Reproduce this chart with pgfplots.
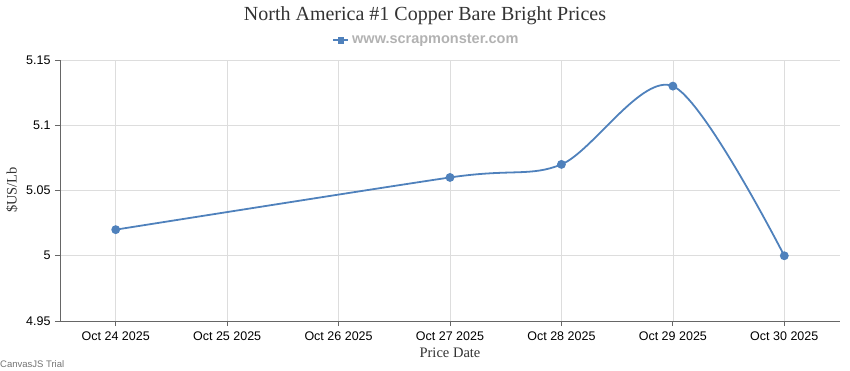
\documentclass[border=0pt]{standalone}
\usepackage{pgfplots}
\pgfplotsset{compat=1.18}
\usepackage{fontspec}
\setmainfont{Liberation Serif}
\setsansfont{Liberation Sans}
\definecolor{series}{HTML}{4F81BC}
\definecolor{gridc}{HTML}{DDDDDD}
\definecolor{axc}{HTML}{666666}
\begin{document}
\begin{tikzpicture}[x=1bp,y=1bp]
\useasboundingbox (-60,-49) rectangle (790,321);
\begin{axis}[
  at={(0,0)}, anchor=south west,
  scale only axis, width=780bp, height=261bp,
  xmin=-0.5, xmax=6.5, ymin=4.95, ymax=5.15,
  xtick={0,1,2,3,4,5,6},
  xticklabels={Oct 24 2025,Oct 25 2025,Oct 26 2025,Oct 27 2025,Oct 28 2025,Oct 29 2025,Oct 30 2025},
  ytick={4.95,5,5.05,5.1,5.15},
  yticklabels={4.95,5,5.05,5.1,5.15},
  axis x line*=bottom, axis y line*=left,
  axis line style={axc, line width=0.8pt, -},
  grid=major, major grid style={gridc, line width=0.6pt},
  tick style={axc, line width=0.8pt},
  major tick length=5bp,
  tick align=outside,
  xtick pos=bottom, ytick pos=left,
  ticklabel style={font=\sffamily\fontsize{12.5bp}{14bp}\selectfont, text=black},
  xticklabel style={yshift=-2bp},
  yticklabel style={xshift=-1bp},
  clip=false,
]
\addplot[series, line width=1.8pt, smooth, tension=0.5, mark=*, mark size=3.5pt, mark options={fill=series, draw=series}]
  coordinates {(0,5.02) (3,5.06) (4,5.07) (5,5.13) (6,5.00)};
\end{axis}
\node[font=\fontsize{20bp}{22bp}\selectfont, text=black!80] at (365,305) {North America \#1 Copper Bare Bright Prices};
\draw[series, line width=2.5pt] (273,281) -- (288,281);
\fill[series] (277.5,277.5) rectangle (283.5,284.5);
\node[anchor=west, inner sep=0pt, font=\sffamily\bfseries\fontsize{14.5bp}{16bp}\selectfont, text=black!30] at (292,281) {www.scrapmonster.com};
\node[rotate=90, font=\fontsize{14.5bp}{16bp}\selectfont, text=black!80] at (-48,131) {\$US/Lb};
\node[font=\fontsize{14.5bp}{16bp}\selectfont, text=black!80] at (390,-32) {Price Date};
\node[anchor=south west, inner sep=0pt, font=\sffamily\fontsize{9.5bp}{11bp}\selectfont, text=black!55] at (-60,-47) {CanvasJS Trial};
\end{tikzpicture}
\end{document}
